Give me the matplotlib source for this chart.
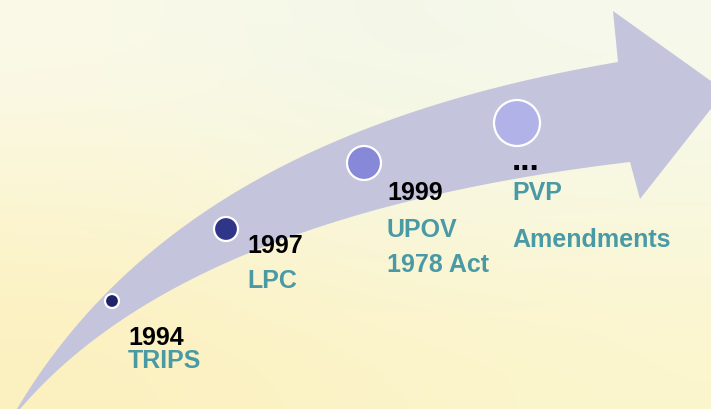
import numpy as np
import matplotlib
matplotlib.use('Agg')
import matplotlib.pyplot as plt
from matplotlib.patches import Polygon, Circle

# Timeline content
years = ['1994', '1997', '1999', '...']
names = [['TRIPS'], ['LPC'], ['UPOV', '1978 Act'], ['PVP', 'Amendments']]
dot_colors = ['#20236a', '#2f3588', '#8888d8', '#b0b2e8']
dot_radius = [7, 12, 17, 23]

# layout (pixel coordinates, y grows downwards)
dot_xy = [(112, 302), (226, 230), (364, 164), (517, 124)]
text_x = [128, 247, 387, 512]
year_base = [345, 253, 200, 170]
year_size = [18, 18, 18, 24]
name_base = [[368], [288], [237, 272], [200, 247]]

# arrow shaft edges as cubic bezier control points, plus the head
upper_edge = [(17, 410), (130, 220), (330, 112), (618, 63)]
lower_edge = [(20, 410), (140, 270), (360, 195), (630, 163)]
head = [(613, 12), (725, 92), (640, 200)]


def bezier(ctrl, n=120):
    p0, p1, p2, p3 = [np.array(c, dtype=float) for c in ctrl]
    t = np.linspace(0, 1, n)[:, None]
    return ((1 - t) ** 3 * p0 + 3 * (1 - t) ** 2 * t * p1
            + 3 * (1 - t) * t ** 2 * p2 + t ** 3 * p3)


fig = plt.figure(figsize=(7.11, 4.10), dpi=100)
ax = fig.add_axes([0, 0, 1, 1])
ax.set_xlim(0, 711)
ax.set_ylim(410, 0)
ax.axis('off')

# soft yellow background
bg = np.array([
    [(251, 250, 234), (243, 247, 232), (246, 249, 236)],
    [(251, 245, 208), (248, 247, 222), (249, 248, 224)],
    [(252, 240, 190), (252, 243, 199), (252, 246, 205)],
]) / 255.0
ax.imshow(bg, extent=[0, 711, 410, 0], interpolation='bicubic', aspect='auto', zorder=0)

# curved arrow
up = bezier(upper_edge)
lo = bezier(lower_edge)
outline = np.vstack([up, np.array(head), lo[::-1]])
ax.add_patch(Polygon(outline, closed=True, facecolor='#c4c5dd', edgecolor='none', zorder=1))

for (x, y), r, c in zip(dot_xy, dot_radius, dot_colors):
    ax.add_patch(Circle((x, y), r, facecolor=c, edgecolor='white', linewidth=1.6, zorder=2))

fam = ['Liberation Sans', 'DejaVu Sans']
for i, yr in enumerate(years):
    ax.text(text_x[i], year_base[i], yr, color='black', ha='left', va='baseline',
            family=fam, fontweight='bold', fontsize=year_size[i], zorder=3)
    for line, base in zip(names[i], name_base[i]):
        ax.text(text_x[i], base, line, color='#4a9aa6', ha='left', va='baseline',
                family=fam, fontweight='bold', fontsize=18, zorder=3)

fig.savefig('out.png', dpi=100)
